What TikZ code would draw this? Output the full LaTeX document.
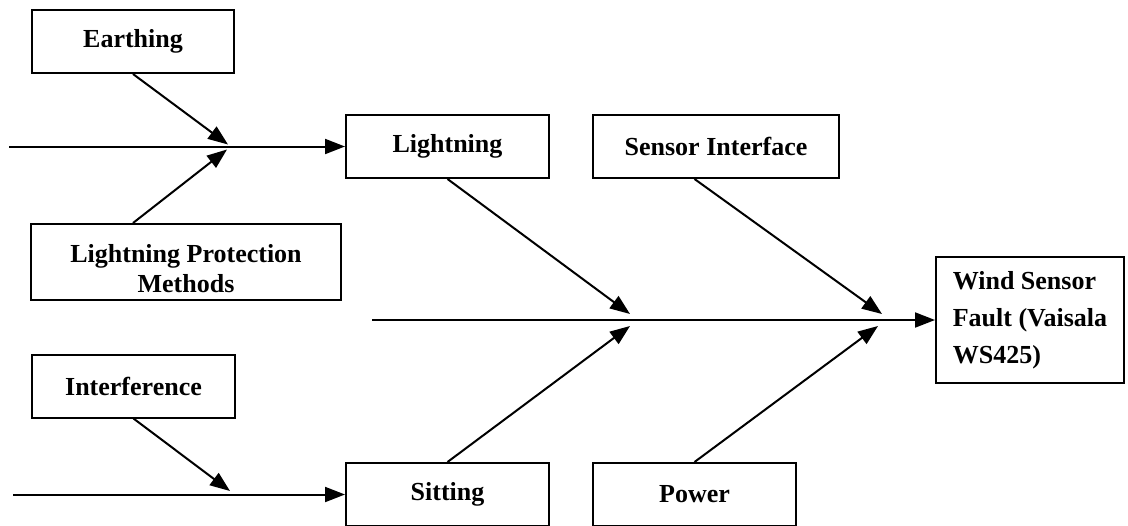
\documentclass[tikz,border=0pt]{standalone}
\usepackage{fontspec}
\setmainfont{Liberation Serif}
\usetikzlibrary{arrows.meta}

\begin{document}
\begin{tikzpicture}[
    x=0.5pt, y=-0.5pt,
    causebox/.style={draw, line width=1pt, inner sep=0pt, minimum height=31.5pt,
      font=\bfseries\fontsize{13}{15}\selectfont, align=center},
    arrowline/.style={line width=1pt, -{Triangle[length=10pt, width=7.5pt]}}
]
  % Fix the picture area
  \clip (0,0) rectangle (1128,525);

  % Draw the cause boxes
  \node[causebox, minimum width=101pt] (earthing) at (133,41.5) {Earthing};
  \node[causebox, minimum width=155pt, text height=34pt, text depth=4pt] (protection) at (186,262) {Lightning Protection\\Methods};
  \node[causebox, minimum width=101.5pt] (interference) at (133.5,386) {Interference};
  \node[causebox, minimum width=101.5pt] (lightning) at (447.5,146.5) {Lightning};
  \node[causebox, minimum width=123pt] (sensor) at (716,146.5) {Sensor Interface};
  \node[causebox, minimum width=101.5pt] (sitting) at (447.5,494.5) {Sitting};
  \node[causebox, minimum width=101.5pt] (power) at (694.5,494.5) {Power};

  % Draw the effect box
  \node[causebox, minimum width=94pt, minimum height=63pt, align=left,
    font=\bfseries\fontsize{13}{18.5}\selectfont] (fault) at (1030,320) {Wind Sensor\\Fault (Vaisala\\WS425)};

  % Line starts and arrow tips on the lines
  \coordinate (topstart) at (9,146.5);
  \coordinate (mainstart) at (372,320);
  \coordinate (lowstart) at (13,494.5);
  \coordinate (earthingtip) at (228,144.5);
  \coordinate (protectiontip) at (227,149.5);
  \coordinate (lightningtip) at (630,314);
  \coordinate (sittingtip) at (630,326);
  \coordinate (sensortip) at (882,314);
  \coordinate (powertip) at (878,326);
  \coordinate (interferencetip) at (230,491);

  % Draw the horizontal lines
  \draw[arrowline] (topstart) -- (lightning.west);
  \draw[arrowline] (mainstart) -- (fault.west);
  \draw[arrowline] (lowstart) -- (sitting.west);

  % Draw the branches
  \draw[arrowline] (earthing.south) -- (earthingtip);
  \draw[arrowline] (protection.north -| earthing.south) -- (protectiontip);
  \draw[arrowline] (interference.south) -- (interferencetip);
  \draw[arrowline] (lightning.south) -- (lightningtip);
  \draw[arrowline] (sitting.north) -- (sittingtip);
  \draw[arrowline] (sensor.south -| power.north) -- (sensortip);
  \draw[arrowline] (power.north) -- (powertip);
\end{tikzpicture}
\end{document}
